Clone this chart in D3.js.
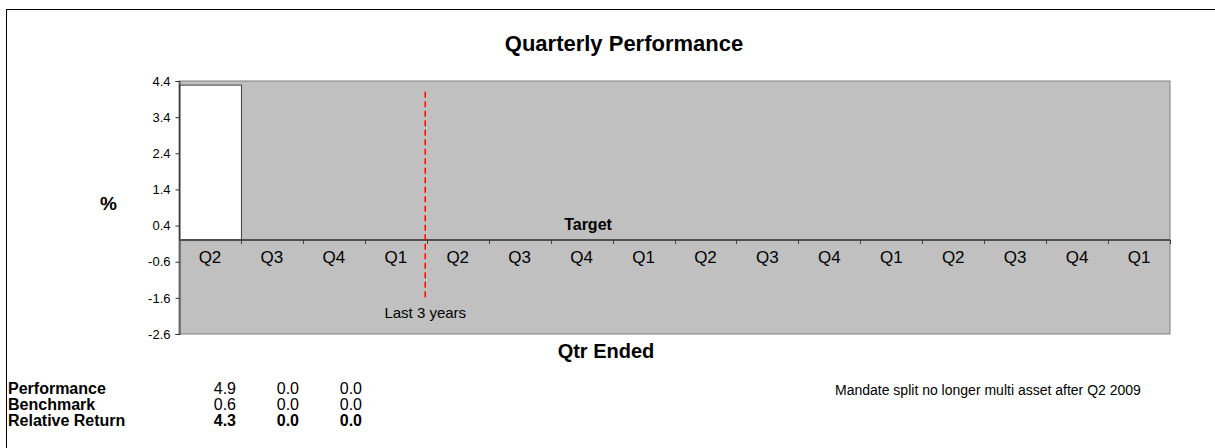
<!DOCTYPE html>
<html>
<head>
<meta charset="utf-8">
<script src="https://cdn.jsdelivr.net/npm/d3@7"></script>
<style>
  body { margin: 0; background: #fff; }
  svg text { font-family: Arial, "Liberation Sans", sans-serif; fill: #000; }
</style>
</head>
<body>
<svg id="chart" width="1215" height="448"></svg>
<script>
// quarters shown along the x axis
const quarters = ["Q2", "Q3", "Q4", "Q1", "Q2", "Q3", "Q4", "Q1",
                  "Q2", "Q3", "Q4", "Q1", "Q2", "Q3", "Q4", "Q1"];
// relative return bars (only the first quarters have data)
const relReturn = [4.3, 0.0, 0.0];
const yTicks = [-2.6, -1.6, -0.6, 0.4, 1.4, 2.4, 3.4, 4.4];

// table under the chart
const rowLabels = ["Performance", "Benchmark", "Relative Return"];
const performance = [4.9, 0.0, 0.0];
const benchmark = [0.6, 0.0, 0.0];
const relative = [4.3, 0.0, 0.0];

// "last 3 years" marker sits before this quarter index
const last3Index = 4;
const last3Range = [4.1, -1.65];

const W = 1215, H = 448;
const plot = { left: 179, right: 1170, top: 81, bottom: 334 };

const svg = d3.select("#chart");

// outer frame, runs off the right/bottom edge
svg.append("rect")
    .attr("x", 6.5).attr("y", 9.5)
    .attr("width", W).attr("height", H)
    .attr("fill", "none")
    .attr("stroke", "#000")
    .attr("stroke-width", 1);

const x = d3.scaleBand()
    .domain(d3.range(quarters.length))
    .range([plot.left, plot.right])
    .padding(0);

const y = d3.scaleLinear()
    .domain([-2.6, 4.4])
    .range([plot.bottom, plot.top]);

// plot background
svg.append("rect")
    .attr("x", plot.left).attr("y", plot.top)
    .attr("width", plot.right - plot.left)
    .attr("height", plot.bottom - plot.top)
    .attr("fill", "#C0C0C0")
    .attr("stroke", "#808080")
    .attr("stroke-width", 1);

// bars
svg.append("g")
    .selectAll("rect")
    .data(relReturn)
    .enter()
    .append("rect")
    .attr("x", (d, i) => x(i) + 0.5)
    .attr("width", x.bandwidth())
    .attr("y", d => Math.min(y(d), y(0)) + 0.5)
    .attr("height", d => Math.abs(y(d) - y(0)))
    .attr("fill", "#fff")
    .attr("stroke", d => d === 0 ? "none" : "#404040")
    .attr("stroke-width", 1);

// y axis
const yAxis = svg.append("g")
    .attr("transform", "translate(" + (plot.left + 0.5) + ",0)")
    .call(d3.axisLeft(y).tickValues(yTicks).tickSize(4).tickPadding(5)
        .tickFormat(d => d.toFixed(1)));
yAxis.select(".domain").attr("stroke", "#303030");
yAxis.selectAll(".tick line").attr("stroke", "#303030");
yAxis.selectAll("text")
    .style("font-size", "13px")
    .style("font-family", "Arial, 'Liberation Sans', sans-serif");

// zero line with category ticks
const zero = Math.round(y(0));
svg.append("line")
    .attr("x1", plot.left).attr("x2", plot.right)
    .attr("y1", zero).attr("y2", zero)
    .attr("stroke", "#505050")
    .attr("stroke-width", 2);

svg.append("g")
    .selectAll("line")
    .data(d3.range(1, quarters.length + 1))
    .enter()
    .append("line")
    .attr("x1", i => Math.round(x(i - 1) + x.bandwidth()) + 0.5)
    .attr("x2", i => Math.round(x(i - 1) + x.bandwidth()) + 0.5)
    .attr("y1", zero)
    .attr("y2", zero + 4)
    .attr("stroke", "#404040");

svg.append("g")
    .selectAll("text")
    .data(quarters)
    .enter()
    .append("text")
    .attr("x", (d, i) => x(i) + x.bandwidth() / 2)
    .attr("y", zero + 23)
    .attr("text-anchor", "middle")
    .style("font-size", "17px")
    .text(d => d);

// last 3 years marker
const mx = x(last3Index) - 1.5;
svg.append("line")
    .attr("x1", mx).attr("x2", mx)
    .attr("y1", y(last3Range[0])).attr("y2", y(last3Range[1]))
    .attr("stroke", "#FF0000")
    .attr("stroke-width", 1.5)
    .attr("stroke-dasharray", "6,3.5");

svg.append("text")
    .attr("x", mx)
    .attr("y", 318)
    .attr("text-anchor", "middle")
    .style("font-size", "15px")
    .text("Last 3 years");

svg.append("text")
    .attr("x", 588)
    .attr("y", 230)
    .attr("text-anchor", "middle")
    .style("font-size", "16px")
    .style("font-weight", "bold")
    .text("Target");

// titles
svg.append("text")
    .attr("x", 624).attr("y", 51)
    .attr("text-anchor", "middle")
    .style("font-size", "22px")
    .style("font-weight", "bold")
    .text("Quarterly Performance");

svg.append("text")
    .attr("x", 606).attr("y", 358)
    .attr("text-anchor", "middle")
    .style("font-size", "20px")
    .style("font-weight", "bold")
    .text("Qtr Ended");

svg.append("text")
    .attr("x", 100).attr("y", 210)
    .style("font-size", "19px")
    .style("font-weight", "bold")
    .text("%");

// table
const tableRows = [performance, benchmark, relative];
const colX = [236, 299, 362];
const rowY = [394, 410, 426];

const rows = svg.append("g")
    .selectAll("g")
    .data(tableRows)
    .enter()
    .append("g");

rows.append("text")
    .attr("x", 8)
    .attr("y", (d, i) => rowY[i])
    .style("font-size", "16px")
    .style("font-weight", "bold")
    .text((d, i) => rowLabels[i]);

rows.each(function (vals, r) {
    d3.select(this).selectAll("text.val")
        .data(vals)
        .enter()
        .append("text")
        .attr("class", "val")
        .attr("x", (d, i) => colX[i])
        .attr("y", rowY[r])
        .attr("text-anchor", "end")
        .style("font-size", "16px")
        .style("font-weight", r === 2 ? "bold" : "normal")
        .text(d => d.toFixed(1));
});

svg.append("text")
    .attr("x", 835).attr("y", 395)
    .style("font-size", "14px")
    .text("Mandate split no longer multi asset after Q2 2009");
</script>
</body>
</html>
